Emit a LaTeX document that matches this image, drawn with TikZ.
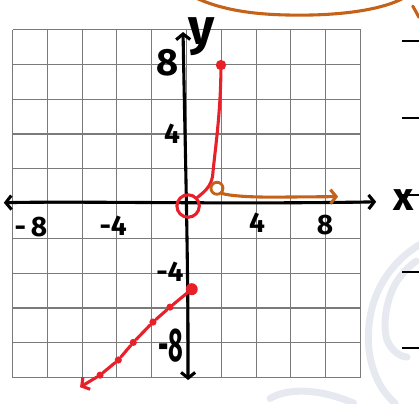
\documentclass[tikz,border=0pt]{standalone}
\usepackage{fontspec}
\setmainfont{Fira Sans}
\usetikzlibrary{arrows.meta, calc}
\definecolor{penred}{HTML}{E8202A}
\definecolor{penorange}{HTML}{C4621A}
\definecolor{gridgray}{HTML}{7A7A7A}
\definecolor{markpale}{HTML}{E6E9F0}

\tikzset{
  pen/.style={line width=2.2pt, line cap=round, line join=round},
  barb/.style={-{Straight Barb[length=4pt,width=10pt]}},
  lbl/.style={inner sep=0pt, font=\bfseries\fontsize{20}{20}\selectfont},
  bigdot/.style={circle, fill=penred, inner sep=0pt, minimum size=0.3cm},
  smalldot/.style={circle, fill=penred, inner sep=0pt, minimum size=0.18cm},
}

\begin{document}
\begin{tikzpicture}[x=0.435cm, y=0.435cm]
  \useasboundingbox (-10.72,-11.47) rectangle (13.36,11.70);
  % faint watermark
  \draw[markpale, line width=5pt, line cap=round] (13.36,-2.38) .. controls (11.4,-3.6) and (10.4,-5.6) .. (10.45,-7.85) .. controls (10.5,-9.6) and (11.2,-10.8) .. (11.98,-11.47);
  \draw[markpale, line width=5pt, line cap=round] (13.2,-3.3) .. controls (12.8,-3.6) and (12.5,-3.9) .. (12.27,-4.22) .. controls (11.6,-5) and (11.2,-6.8) .. (11.52,-7.84) .. controls (11.8,-8.5) and (12.3,-8.8) .. (12.67,-8.82);
  \draw[markpale, line width=5pt, line cap=round] (4.8,-11.2) .. controls (5.8,-10.6) and (7.6,-10.6) .. (9.6,-11.47);

  % grid
  \draw[gridgray, line width=0.8pt] (-10,-10) grid[step=2] (10,10);

  % axes
  \coordinate (xl) at (-10.5,0.05);
  \coordinate (xr) at (10.9,0.1);
  \coordinate (yt) at (-0.2,9.86);
  \coordinate (yb) at (0.09,-10.14);
  \draw[pen, {Straight Barb[length=4pt,width=10pt]}-{Straight Barb[length=4pt,width=10pt]}] (xl) .. controls (-6,0.15) and (2,-0.05) .. (xr);
  \draw[pen, {Straight Barb[length=4pt,width=10pt]}-{Straight Barb[length=4pt,width=10pt]}] (yb) .. controls (0.1,-3) and (-0.1,4) .. (yt);
  \node[lbl, font=\bfseries\fontsize{36}{36}\selectfont] (ylab) at (0.85,9.6) {y};
  \node[lbl, font=\bfseries\fontsize{28}{28}\selectfont] (xlab) at (12.5,0.2) {x};

  % tick labels
  \node[lbl] (xm8) at (-8.94,-1.35) {-\,8};
  \node[lbl] (xm4) at (-4.22,-1.3) {-4};
  \node[lbl] (xp4) at (4.05,-1.12) {4};
  \node[lbl] (xp8) at (7.96,-1.24) {8};
  \node[lbl, font=\bfseries\fontsize{27}{27}\selectfont] (yp8) at (-1.12,8.07) {8};
  \node[lbl] (yp4) at (-0.83,4.0) {4};
  \node[lbl] (ym4) at (-0.95,-3.94) {-4};
  \node[lbl, font=\bfseries\fontsize{24}{24}\selectfont] (ym8) at (-0.89,-8.19) {\scalebox{0.75}[1.4]{-8}};

  % red upper branch
  \node[bigdot, minimum size=0.26cm] (top) at (1.98,7.96) {};
  \node[circle, draw=penred, line width=2.2pt, inner sep=0pt, minimum size=0.56cm] (hole) at (0.09,-0.14) {};
  \draw[pen, penred] (top) .. controls (1.95,5) and (1.6,2.8) .. (1.5,1.6) .. controls (1.4,0.9) and (0.9,0.6) .. (hole);

  % red lower branch
  \node[bigdot] (start) at (0.3,-4.92) {};
  \foreach \i/\p in {1/{(-0.95,-5.95)}, 2/{(-1.93,-6.81)}, 3/{(-3.06,-7.98)}, 4/{(-3.92,-8.99)}, 5/{(-4.97,-9.86)}}
    \node[smalldot] (d\i) at \p {};
  \coordinate (redtip) at (-6.12,-10.55);
  \draw[pen, penred, barb] (start) -- (d1) -- (d2) -- (d3) -- (d4) -- (d5) -- (redtip);

  % orange branch
  \node[circle, draw=penorange, line width=2pt, inner sep=0pt, minimum size=0.3cm] (ring) at (1.75,0.88) {};
  \coordinate (orgtip) at (8.71,0.4);
  \draw[pen, penorange, barb] (ring.south east) .. controls (2.5,0.45) and (3.5,0.37) .. (5,0.37) -- (orgtip);
  \draw[pen, penorange] (0.37,11.9) .. controls (2.2,11) and (4.4,10.83) .. (6.52,10.83) .. controls (8.8,10.83) and (11.2,11.1) .. (12.55,11.85);
  \draw[pen, penorange] (13.0,11.35) .. controls (13.15,11.1) and (13.25,10.9) .. (13.36,10.7);

  % margin rules
  \foreach \y in {9.34,4.91,0.49,-3.94,-8.30}
    \draw[line width=1.2pt] (12.39,\y) -- (13.4,\y);
\end{tikzpicture}
\end{document}
